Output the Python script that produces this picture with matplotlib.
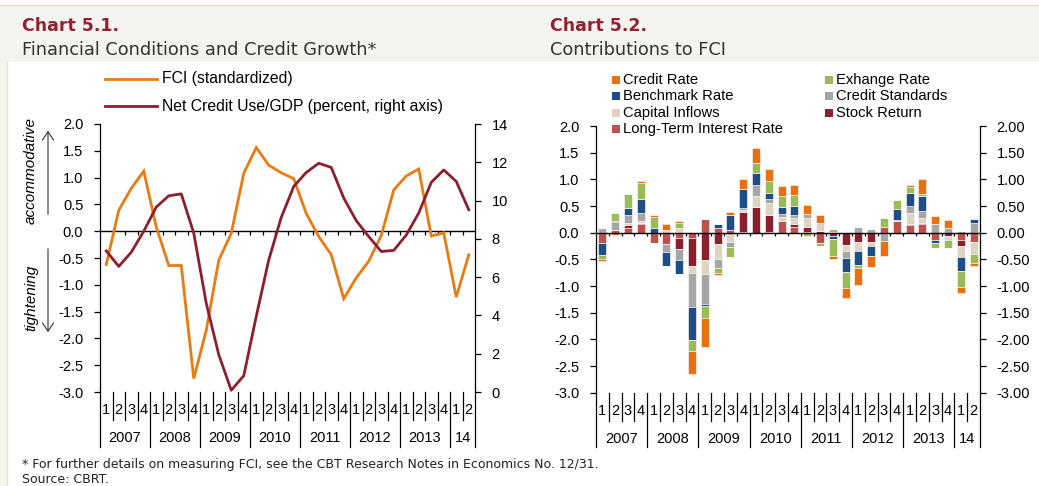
import matplotlib
matplotlib.use("Agg")
import matplotlib.pyplot as plt
from matplotlib.lines import Line2D
from matplotlib.patches import Rectangle
import numpy as np

plt.rcParams['axes.unicode_minus'] = False
plt.rcParams['font.family'] = ['Liberation Sans', 'DejaVu Sans']

# ---------------- data ----------------
quarter_labels = ['1', '2', '3', '4'] * 7 + ['1', '2']
year_labels = ['2007', '2008', '2009', '2010', '2011', '2012', '2013', '14']
year_sizes = [4, 4, 4, 4, 4, 4, 4, 2]

fci = [-0.62, 0.39, 0.80, 1.12, 0.08, -0.64, -0.64, -2.75, -1.85, -0.54,
       -0.04, 1.08, 1.56, 1.23, 1.09, 0.98, 0.33, -0.10, -0.44, -1.26,
       -0.87, -0.56, -0.08, 0.77, 1.03, 1.16, -0.09, -0.03, -1.23, -0.44]
credit_gdp = [7.37, 6.56, 7.30, 8.40, 9.66, 10.25, 10.35, 8.30, 4.64, 1.95,
              0.09, 0.85, 3.95, 6.90, 9.12, 10.74, 11.47, 11.95, 11.73, 10.13,
              8.95, 8.12, 7.34, 7.40, 8.20, 9.35, 10.95, 11.60, 11.00, 9.52]

# contributions to FCI (stack order from zero outward)
long_term = [-0.20, 0.05, 0.08, 0.16, -0.19, -0.21, -0.10, -0.10, 0.26, 0.09,
             0.05, 0.02, 0.00, 0.02, 0.21, 0.10, 0.02, -0.19, 0.00, 0.00,
             0.00, 0.00, 0.10, 0.21, 0.14, 0.16, -0.14, 0.00, -0.14, -0.17]
stock_return = [0.00, 0.00, 0.07, 0.02, 0.00, 0.00, -0.20, -0.52, -0.52, -0.22,
                0.00, 0.37, 0.48, 0.31, 0.00, 0.06, 0.08, 0.03, -0.07, -0.23,
                -0.17, -0.17, 0.00, 0.00, 0.03, 0.03, 0.00, -0.06, -0.11, 0.00]
capital_inflows = [0.00, 0.00, 0.03, 0.04, 0.00, 0.05, 0.08, -0.14, -0.26, -0.27,
                   -0.18, 0.04, 0.21, 0.23, 0.09, 0.12, 0.17, 0.16, 0.02, -0.11,
                   -0.18, -0.08, 0.00, 0.03, 0.19, 0.09, 0.00, -0.06, -0.21, -0.23]
credit_standards = [0.09, 0.15, 0.16, 0.15, 0.00, -0.15, -0.22, -0.64, -0.56, -0.17,
                    -0.09, 0.04, 0.21, 0.07, 0.05, 0.05, 0.08, 0.00, 0.04, -0.14,
                    0.11, 0.07, -0.15, 0.00, 0.14, 0.13, 0.16, 0.08, 0.03, 0.19]
benchmark_rate = [-0.21, 0.02, 0.13, 0.26, 0.09, -0.26, -0.26, -0.61, -0.04, 0.07,
                  0.28, 0.34, 0.21, 0.12, 0.14, 0.17, 0.00, 0.00, -0.04, -0.25,
                  -0.25, -0.19, 0.00, 0.21, 0.25, 0.27, -0.05, -0.02, -0.26, 0.06]
exchange_rate = [-0.09, 0.15, 0.26, 0.31, 0.21, 0.00, 0.11, -0.20, -0.22, -0.09,
                 -0.18, 0.00, 0.19, 0.22, 0.20, 0.20, -0.06, -0.06, -0.33, -0.31,
                 -0.06, 0.00, 0.18, 0.16, 0.11, 0.05, -0.09, -0.14, -0.29, -0.16]
credit_rate = [-0.03, -0.04, -0.01, 0.02, 0.04, 0.12, 0.03, -0.44, -0.54, -0.04,
               0.06, 0.20, 0.29, 0.22, 0.18, 0.20, 0.17, 0.14, -0.05, -0.19,
               -0.33, -0.20, -0.28, -0.03, 0.04, 0.27, 0.16, 0.16, -0.12, -0.07]

series = [
    ('Long-Term Interest Rate', long_term, '#C0504D'),
    ('Stock Return', stock_return, '#8C1F2F'),
    ('Capital Inflows', capital_inflows, '#DDD5C4'),
    ('Credit Standards', credit_standards, '#A6A6A6'),
    ('Benchmark Rate', benchmark_rate, '#1F4E87'),
    ('Exhange Rate', exchange_rate, '#9BBB59'),
    ('Credit Rate', credit_rate, '#E8700E'),
]

ORANGE = '#EA7A12'
DARKRED = '#8C1F2F'
TITLE_RED = '#8C2234'

W, H = 1039, 486
fig = plt.figure(figsize=(W / 100, H / 100), dpi=100)
fig.patch.set_facecolor('white')

def fx(px):
    return px / W

def fy(py):
    return 1 - py / H

# background frame
fig.patches.append(Rectangle((0, fy(62)), 1, fy(5) - fy(62), transform=fig.transFigure,
                             facecolor='#F6F4EE', edgecolor='none', zorder=0))
fig.patches.append(Rectangle((0, 0), fx(7), fy(62), transform=fig.transFigure,
                             facecolor='#F6F4EE', edgecolor='none', zorder=0))
fig.lines.append(Line2D([0, 1], [fy(5), fy(5)], transform=fig.transFigure,
                        color='#E3DDCB', lw=1))
fig.lines.append(Line2D([fx(7), fx(7)], [0, fy(62)], transform=fig.transFigure,
                        color='#E3DDCB', lw=1))

title_font = ['DejaVu Sans']
fig.text(fx(22), fy(26), 'Chart 5.1.', fontsize=12.5, fontweight='bold', color=TITLE_RED,
         family=title_font, va='center', ha='left')
fig.text(fx(22), fy(50), 'Financial Conditions and Credit Growth*', fontsize=12.8,
         color='#333333', family=title_font, va='center', ha='left')
fig.text(fx(550), fy(26), 'Chart 5.2.', fontsize=12.5, fontweight='bold', color=TITLE_RED,
         family=title_font, va='center', ha='left')
fig.text(fx(550), fy(50), 'Contributions to FCI', fontsize=12.8,
         color='#333333', family=title_font, va='center', ha='left')
fig.text(fx(22), fy(464), '* For further details on measuring FCI, see the CBT Research Notes in Economics No. 12/31.',
         fontsize=9, color='#222222', family=title_font, va='center', ha='left')
fig.text(fx(22), fy(479), 'Source: CBRT.', fontsize=9, color='#222222', family=title_font,
         va='center', ha='left')

x = np.arange(len(fci))
n = len(x)
TICK_FS = 10.5


def category_axis(ax, zero_tick_len):
    ax.set_xlim(-0.5, n - 0.5)
    ax.set_xticks([])
    for s in ['top', 'bottom']:
        ax.spines[s].set_visible(False)
    ax.axhline(0, color='black', lw=1.0, zorder=5)
    bounds = np.arange(-0.5, n - 0.4, 1.0)
    ax.vlines(bounds[1:-1], -zero_tick_len, 0, color='black', lw=0.9, zorder=5)
    tr = ax.get_xaxis_transform()
    # quarter labels
    for i, q in enumerate(quarter_labels):
        ax.text(i, -0.068, q, transform=tr, ha='center', va='center', fontsize=TICK_FS,
                clip_on=False)
    year_bounds = [-0.5]
    for s in year_sizes:
        year_bounds.append(year_bounds[-1] + s)
    for b in bounds:
        if b in year_bounds:
            ax.add_line(Line2D([b, b], [0, -0.205], transform=tr, color='black', lw=0.9,
                               clip_on=False))
        else:
            ax.add_line(Line2D([b, b], [0, -0.105], transform=tr, color='black', lw=0.9,
                               clip_on=False))
    for k, lab in enumerate(year_labels):
        c = (year_bounds[k] + year_bounds[k + 1]) / 2
        ax.text(c, -0.172, lab, transform=tr, ha='center', va='center', fontsize=TICK_FS,
                clip_on=False)


# ---------------- left chart ----------------
ax1 = fig.add_axes([fx(100), fy(392), fx(475) - fx(100), fy(124) - fy(392)])
ax1.set_facecolor('none')
ax1.set_ylim(-3.0, 2.0)
ax1.set_yticks(np.arange(-3.0, 2.01, 0.5))
ax1.set_yticklabels([f'{v:.1f}' for v in np.arange(-3.0, 2.01, 0.5)], fontsize=TICK_FS)
ax1.tick_params(axis='y', direction='out', length=4, width=0.9, pad=8)
ax1.spines['left'].set_linewidth(0.9)
ax1.spines['right'].set_visible(False)
category_axis(ax1, 0.07)
ax1.plot(x, fci, color=ORANGE, lw=2.0, zorder=6, solid_joinstyle='miter')

ax1b = ax1.twinx()
ax1b.set_ylim(0, 14)
ax1b.set_yticks(np.arange(0, 15, 2))
ax1b.set_yticklabels([str(v) for v in range(0, 15, 2)], fontsize=TICK_FS)
ax1b.tick_params(axis='y', direction='out', length=4, width=0.9, pad=8)
for s in ['top', 'bottom', 'left']:
    ax1b.spines[s].set_visible(False)
ax1b.spines['right'].set_linewidth(0.9)
ax1b.set_xlim(-0.5, n - 0.5)
ax1b.plot(x, credit_gdp, color=DARKRED, lw=2.0, zorder=6)

# legend (left)
fig.lines.append(Line2D([fx(105), fx(157)], [fy(79), fy(79)], transform=fig.transFigure,
                        color=ORANGE, lw=2.0))
fig.lines.append(Line2D([fx(105), fx(157)], [fy(106), fy(106)], transform=fig.transFigure,
                        color=DARKRED, lw=2.0))
fig.text(fx(162), fy(79), 'FCI (standardized)', fontsize=11.3, va='center', ha='left')
fig.text(fx(162), fy(106), 'Net Credit Use/GDP (percent, right axis)', fontsize=11.3,
         va='center', ha='left')

# side annotations
fig.text(fx(31), fy(171), 'accommodative', rotation=90, style='italic', fontsize=11,
         va='center', ha='center')
fig.text(fx(31), fy(298), 'tightening', rotation=90, style='italic', fontsize=11,
         va='center', ha='center')
fig.add_artist(matplotlib.patches.FancyArrowPatch(
    (fx(48), fy(217)), (fx(48), fy(128)), transform=fig.transFigure,
    arrowstyle='->,head_length=6,head_width=4', color='#333333', lw=0.8))
fig.add_artist(matplotlib.patches.FancyArrowPatch(
    (fx(48), fy(246)), (fx(48), fy(335)), transform=fig.transFigure,
    arrowstyle='->,head_length=6,head_width=4', color='#333333', lw=0.8))

# ---------------- right chart ----------------
ax2 = fig.add_axes([fx(596), fy(392.7), fx(980) - fx(596), fy(126) - fy(392.7)])
ax2.set_facecolor('none')
ax2.set_ylim(-3.0, 2.0)
ax2.set_yticks(np.arange(-3.0, 2.01, 0.5))
ax2.set_yticklabels([f'{v:.1f}' for v in np.arange(-3.0, 2.01, 0.5)], fontsize=TICK_FS)
ax2.tick_params(axis='y', direction='out', length=4, width=0.9, pad=8)
ax2.spines['left'].set_linewidth(0.9)
ax2.spines['right'].set_visible(False)
category_axis(ax2, 0.07)

pos_base = np.zeros(n)
neg_base = np.zeros(n)
for name, vals, col in series:
    v = np.array(vals)
    pos = np.where(v > 0, v, 0)
    neg = np.where(v < 0, v, 0)
    ax2.bar(x, pos, bottom=pos_base, width=0.62, color=col, edgecolor='white',
            linewidth=0.4, zorder=3)
    ax2.bar(x, neg, bottom=neg_base, width=0.62, color=col, edgecolor='white',
            linewidth=0.4, zorder=3)
    pos_base += pos
    neg_base += neg

ax2b = ax2.twinx()
ax2b.set_ylim(-3.0, 2.0)
ax2b.set_yticks(np.arange(-3.0, 2.01, 0.5))
ax2b.set_yticklabels([f'{v:.2f}' for v in np.arange(-3.0, 2.01, 0.5)], fontsize=TICK_FS)
ax2b.tick_params(axis='y', direction='out', length=4, width=0.9, pad=8)
for s in ['top', 'bottom', 'left']:
    ax2b.spines[s].set_visible(False)
ax2b.spines['right'].set_linewidth(0.9)

# legend (right)
legend_items = [
    ('Credit Rate', '#E8700E', 612, 80), ('Benchmark Rate', '#1F4E87', 612, 96),
    ('Capital Inflows', '#DDD5C4', 612, 113), ('Long-Term Interest Rate', '#C0504D', 612, 129),
    ('Exhange Rate', '#9BBB59', 825, 80), ('Credit Standards', '#A6A6A6', 825, 96),
    ('Stock Return', '#8C1F2F', 825, 113),
]
for lab, col, px, py in legend_items:
    fig.patches.append(Rectangle((fx(px), fy(py + 4)), fx(8), (8 / H), transform=fig.transFigure,
                                 facecolor=col, edgecolor='none'))
    fig.text(fx(px + 11), fy(py), lab, fontsize=10.6, va='center', ha='left')

fig.savefig('out.png', dpi=100, facecolor=fig.get_facecolor())
